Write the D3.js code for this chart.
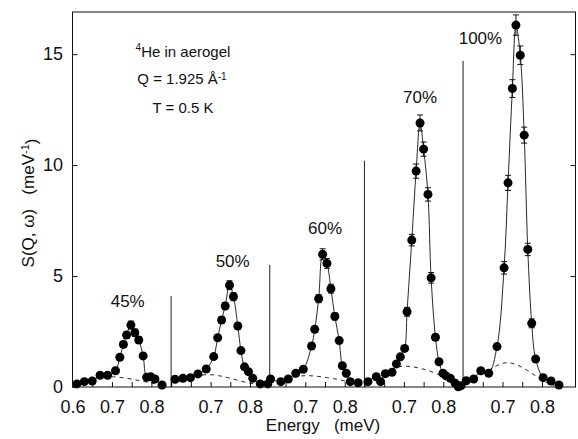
<!DOCTYPE html>
<html>
<head>
<meta charset="utf-8">
<script src="https://cdn.jsdelivr.net/npm/d3@7/dist/d3.min.js"></script>
<style>
  html, body { margin: 0; padding: 0; background: #fff; }
  svg { display: block; }
  text { font-family: 'Liberation Sans', Arial, Helvetica, sans-serif; fill: #111; white-space: pre; }
</style>
</head>
<body>
<svg id="chart" width="578" height="439"></svg>
<script>
// ---------------- data ----------------
const panelNames = ["45%", "50%", "60%", "70%", "100%"];
const panelDomains = [[0.6, 0.85], [0.6, 0.85], [0.61, 0.85], [0.6, 0.85], [0.6, 0.885]];
const tickLabelValues = [[0.6, 0.7, 0.8], [0.7, 0.8], [0.7, 0.8], [0.7, 0.8], [0.7, 0.8]];
const yTicks = [0, 5, 10, 15];

const E45 = [0.611,0.630,0.650,0.670,0.689,0.709,0.720,0.729,0.737,0.748,0.758,0.768,0.779,0.788,0.798,0.809,0.827];
const S45 = [0.14,0.24,0.27,0.53,0.53,0.73,1.34,1.92,2.34,2.79,2.45,2.12,1.40,0.44,0.46,0.36,0.09];
const err45 = [0.08,0.08,0.08,0.08,0.08,0.1,0.12,0.14,0.15,0.18,0.16,0.15,0.12,0.08,0.08,0.08,0.08];

const E50 = [0.610,0.630,0.649,0.668,0.689,0.708,0.718,0.728,0.737,0.748,0.758,0.769,0.777,0.786,0.796,0.807,0.826,0.845];
const S50 = [0.35,0.39,0.42,0.59,0.81,1.37,2.22,3.02,3.65,4.59,4.07,2.75,1.64,0.91,0.69,0.39,0.14,0.14];
const err50 = [0.08,0.08,0.08,0.08,0.08,0.1,0.12,0.14,0.16,0.2,0.18,0.14,0.1,0.08,0.08,0.08,0.08,0.08];

const E60 = [0.612,0.638,0.657,0.676,0.695,0.716,0.724,0.734,0.744,0.755,0.765,0.775,0.786,0.794,0.804,0.814,0.834];
const S60 = [0.36,0.24,0.36,0.62,0.80,1.85,2.60,3.98,5.98,5.57,4.43,3.18,2.09,0.96,0.62,0.24,0.19];
const err60 = [0.08,0.08,0.08,0.08,0.08,0.12,0.14,0.18,0.25,0.22,0.2,0.16,0.12,0.08,0.08,0.08,0.08];

const E70 = [0.609,0.630,0.641,0.653,0.670,0.681,0.691,0.702,0.708,0.720,0.731,0.741,0.750,0.761,0.769,0.780,0.789,0.799,0.807,0.818,0.830,0.838,0.845];
const S70 = [0.24,0.46,0.24,0.60,0.66,1.04,1.36,1.74,3.39,6.62,9.73,11.9,10.72,8.68,4.92,2.24,1.14,0.62,0.50,0.39,0.17,0.01,0.06];
const err70 = [0.08,0.08,0.08,0.08,0.08,0.08,0.1,0.12,0.2,0.26,0.32,0.36,0.32,0.3,0.24,0.14,0.1,0.08,0.08,0.08,0.08,0.08,0.08];

const E100 = [0.608,0.627,0.645,0.665,0.686,0.704,0.714,0.725,0.734,0.745,0.755,0.764,0.774,0.784,0.803,0.823,0.843];
const S100 = [0.28,0.36,0.73,0.62,1.82,5.37,9.20,13.45,16.31,14.95,11.35,6.20,2.87,1.26,0.42,0.27,0.09];
const err100 = [0.08,0.08,0.08,0.08,0.12,0.28,0.34,0.4,0.46,0.42,0.36,0.28,0.2,0.1,0.08,0.08,0.08];

// dashed background curves
const bgE45 = [0.62,0.645,0.67,0.695,0.72,0.75,0.78,0.81,0.83];
const bgS45 = [0.2,0.35,0.44,0.47,0.44,0.36,0.25,0.14,0.08];
const bgE50 = [0.62,0.65,0.69,0.72,0.75,0.78,0.81,0.84];
const bgS50 = [0.25,0.45,0.59,0.52,0.40,0.24,0.14,0.06];
const bgE60 = [0.63,0.68,0.716,0.758,0.792,0.817,0.84];
const bgS60 = [0.28,0.51,0.52,0.42,0.32,0.19,0.08];
const bgE70 = [0.63,0.677,0.71,0.744,0.778,0.81,0.835];
const bgS70 = [0.45,0.92,0.96,0.84,0.66,0.35,0.1];
const bgE100 = [0.63,0.671,0.704,0.73,0.763,0.797,0.83];
const bgS100 = [0.35,0.84,1.14,1.07,0.77,0.32,0.05];

// separator line heights (in S units) between panels
const sepHeights = [4.1, 5.5, 10.2, 14.7];
// panel label anchors (energy within panel, S value)
const labelE = [0.74, 0.756, 0.75, 0.741, 0.644];
const labelS = [3.6, 5.4, 6.88, 12.78, 15.44];

const panels = [
  {E: E45, S: S45, err: err45, bgE: bgE45, bgS: bgS45},
  {E: E50, S: S50, err: err50, bgE: bgE50, bgS: bgS50},
  {E: E60, S: S60, err: err60, bgE: bgE60, bgS: bgS60},
  {E: E70, S: S70, err: err70, bgE: bgE70, bgS: bgS70},
  {E: E100, S: S100, err: err100, bgE: bgE100, bgS: bgS100}
];

// ---------------- layout ----------------
const plot = {left: 72.5, right: 575.5, top: 12, bottom: 387};
const svg = d3.select("#chart");

const y = d3.scaleLinear().domain([0, 16.9]).range([plot.bottom, plot.top]);

const totalSpan = d3.sum(panelDomains, d => d[1] - d[0]);
const pxPerUnit = (plot.right - plot.left) / totalSpan;
let cursor = plot.left;
const xs = panelDomains.map(dom => {
  const w = (dom[1] - dom[0]) * pxPerUnit;
  const s = d3.scaleLinear().domain(dom).range([cursor, cursor + w]);
  cursor += w;
  return s;
});

const g = svg.append("g");

// separators
sepHeights.forEach((h, i) => {
  const xx = xs[i + 1].range()[0];
  g.append("line")
    .attr("x1", xx).attr("x2", xx)
    .attr("y1", y(0)).attr("y2", y(h))
    .attr("stroke", "#222").attr("stroke-width", 1);
});

panels.forEach((p, i) => {
  const x = xs[i];
  const pts = p.E.map((e, k) => ({e, s: p.S[k], err: p.err[k]}));
  const bg = p.bgE.map((e, k) => ({e, s: p.bgS[k]}));

  // dashed background
  g.append("path")
    .datum(bg)
    .attr("fill", "none")
    .attr("stroke", "#111")
    .attr("stroke-width", 0.9)
    .attr("stroke-dasharray", "4,4")
    .attr("d", d3.line().x(d => x(d.e)).y(d => y(d.s)).curve(d3.curveBasis));

  // fit line
  g.append("path")
    .datum(pts)
    .attr("fill", "none")
    .attr("stroke", "#111")
    .attr("stroke-width", 0.9)
    .attr("d", d3.line().x(d => x(d.e)).y(d => y(d.s)).curve(d3.curveCatmullRom.alpha(0.5)));

  // error bars
  const eb = g.append("g").attr("stroke", "#111").attr("stroke-width", 1);
  pts.forEach(d => {
    const cx = x(d.e);
    eb.append("line").attr("x1", cx).attr("x2", cx).attr("y1", y(d.s - d.err)).attr("y2", y(d.s + d.err));
    eb.append("line").attr("x1", cx - 3).attr("x2", cx + 3).attr("y1", y(d.s + d.err)).attr("y2", y(d.s + d.err));
    eb.append("line").attr("x1", cx - 3).attr("x2", cx + 3).attr("y1", y(d.s - d.err)).attr("y2", y(d.s - d.err));
  });

  // points
  g.append("g").selectAll("circle")
    .data(pts).join("circle")
    .attr("cx", d => x(d.e)).attr("cy", d => y(d.s))
    .attr("r", 4.5).attr("fill", "#000");

  // bottom axis for the panel
  const tv = d3.range(Math.ceil(panelDomains[i][0] / 0.05 - 1e-6), Math.floor(panelDomains[i][1] / 0.05 + 1e-6) + 1).map(k => +(k * 0.05).toFixed(2));
  const labs = tickLabelValues[i];
  const ax = d3.axisBottom(x)
    .tickValues(tv)
    .tickSizeInner(-5).tickSizeOuter(0)
    .tickPadding(13)
    .tickFormat(d => labs.some(v => Math.abs(v - d) < 1e-6) ? d3.format(".1f")(d) : "");
  const axg = g.append("g").attr("transform", `translate(0,${plot.bottom})`).call(ax);
  axg.select(".domain").remove();
  axg.selectAll("line").attr("stroke", "#111");
  axg.selectAll("text").style("font-size", "18px").style("font-family", "'Liberation Sans', Arial, sans-serif").attr("fill", "#111");

  // panel label
  g.append("text")
    .attr("x", x(labelE[i])).attr("y", y(labelS[i]))
    .attr("text-anchor", "middle")
    .style("font-size", "17px")
    .text(panelNames[i]);
});

// left axis
const axL = d3.axisLeft(y).tickValues(yTicks).tickSizeInner(-5).tickSizeOuter(0).tickPadding(9.5).tickFormat(d3.format("d"));
const gl = g.append("g").attr("transform", `translate(${plot.left},0)`).call(axL);
gl.select(".domain").remove();
gl.selectAll("line").attr("stroke", "#111");
gl.selectAll("text").style("font-size", "18px").style("font-family", "'Liberation Sans', Arial, sans-serif").attr("fill", "#111");

// right axis ticks
const axR = d3.axisRight(y).tickValues(yTicks.filter(v => v > 0)).tickSizeInner(-5).tickSizeOuter(0).tickFormat("");
const gr = g.append("g").attr("transform", `translate(${plot.right},0)`).call(axR);
gr.select(".domain").remove();
gr.selectAll("line").attr("stroke", "#111");

// frame
g.append("rect")
  .attr("x", plot.left).attr("y", plot.top)
  .attr("width", plot.right - plot.left).attr("height", plot.bottom - plot.top)
  .attr("fill", "none").attr("stroke", "#111").attr("stroke-width", 1);

// annotation block
const ann = g.append("g").attr("text-anchor", "middle").style("font-size", "15px");
const t1 = ann.append("text").attr("x", 183).attr("y", 55);
t1.append("tspan").attr("dy", "-0.45em").style("font-size", "10px").text("4");
t1.append("tspan").attr("dy", "0.45em").text("He in aerogel");
const t2 = ann.append("text").attr("x", 182).attr("y", 84);
t2.append("tspan").text("Q = 1.925 Å");
t2.append("tspan").attr("dy", "-0.45em").style("font-size", "10px").text("-1");
const t3 = ann.append("text").attr("x", 183).attr("y", 113).text("T = 0.5 K");

// axis titles
svg.append("text")
  .attr("x", 323).attr("y", 431)
  .attr("text-anchor", "middle")
  .style("font-size", "17px")
  .text("Energy   (meV)");

const yl = svg.append("text")
  .attr("transform", "translate(34,203) rotate(-90)")
  .attr("text-anchor", "middle")
  .style("font-size", "17px");
yl.append("tspan").text("S(Q, ω)   (meV");
yl.append("tspan").attr("dy", "-0.45em").style("font-size", "11px").text("-1");
yl.append("tspan").attr("dy", "0.45em").text(")");
</script>
</body>
</html>
